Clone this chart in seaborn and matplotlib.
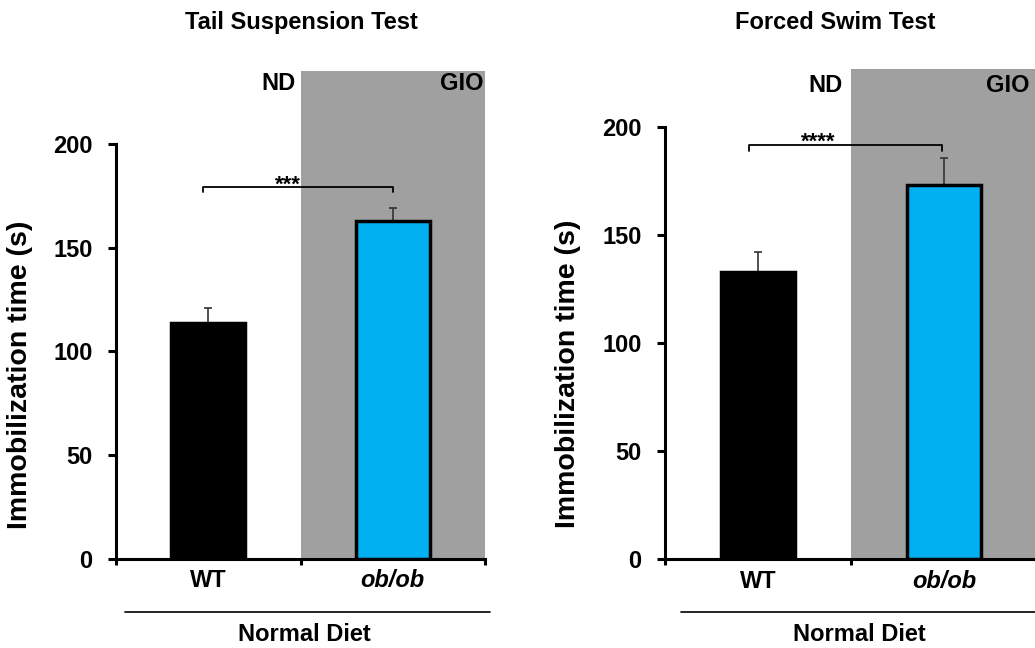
import pandas as pd
import seaborn as sns
import matplotlib.pyplot as plt
from matplotlib.lines import Line2D
import matplotlib.transforms as mtransforms

# Data (mean and upper error)
groups = ['WT', 'ob/ob']
tst_mean = [113.5, 163]
tst_err = [7.5, 6]
fst_mean = [133, 173.5]
fst_err = [9, 12.5]

titles = ['Tail Suspension Test', 'Forced Swim Test']
stars = ['***', '****']
yticks = [0, 50, 100, 150, 200]
bar_colors = ['black', '#00B0F0']
shade = '#A0A0A0'

sns.set_style('white')
plt.rcParams['font.family'] = ['Liberation Sans', 'DejaVu Sans']
for k in ['text.color', 'axes.labelcolor', 'xtick.color', 'ytick.color', 'axes.edgecolor']:
    plt.rcParams[k] = 'black'

fig = plt.figure(figsize=(10.35, 6.48), dpi=100)

# per panel layout: axes rect, ylim top, bracket y, bracket ends, star x, ND x, GIO x, text y
panels = [
    dict(rect=[0.1121, 0.1373, 0.3565, 0.7531], ytop=235, by=179, bx=(-0.03, 1.0), drop=2.4,
         sx=0.43, sy=177.5, ndx=0.473, giox=1.49, ty=0.975, title_x=0.2913,
         line=(0.1208, 0.4734), diet_x=0.294),
    dict(rect=[0.6425, 0.1373, 0.3594, 0.7562], ytop=227, by=192, bx=(-0.046, 0.99), drop=2.8,
         sx=0.325, sy=190.5, ndx=0.457, giox=1.46, ty=0.967, title_x=0.807,
         line=(0.658, 1.0), diet_x=0.830),
]
means = [tst_mean, fst_mean]
errs = [tst_err, fst_err]

for i, p in enumerate(panels):
    ax = fig.add_axes(p['rect'])
    ax.set_facecolor('white')
    df = pd.DataFrame({'group': groups, 'value': means[i]})

    # shaded GIO area
    ax.axvspan(0.5, 1.5, color=shade, lw=0, zorder=0)

    sns.barplot(data=df, x='group', y='value', hue='group', palette=bar_colors,
                saturation=1, width=0.4, dodge=False, errorbar=None, legend=False,
                edgecolor='black', linewidth=2.5, ax=ax, zorder=2)
    ax.errorbar([0, 1], means[i], yerr=[[0, 0], errs[i]], fmt='none',
                ecolor='#333333', elinewidth=1.2, capsize=3, capthick=1.2, zorder=1)

    ax.set_xlim(-0.5, 1.5)
    ax.set_ylim(0, p['ytop'])
    ax.set_yticks(yticks)
    ax.set_yticklabels([str(t) for t in yticks], fontsize=17, fontweight='bold')
    ax.set_xticks([-0.5, 0.5, 1.5])
    ax.set_xticklabels([])
    ax.set_xlabel('')
    ax.set_ylabel('Immobilization time (s)', fontsize=20.5, fontweight='bold')
    ax.yaxis.set_label_coords(-0.225, 0.377)

    for s in ['top', 'right']:
        ax.spines[s].set_visible(False)
    ax.spines['left'].set_bounds(0, 200)
    ax.spines['left'].set_linewidth(2.2)
    ax.spines['bottom'].set_linewidth(2.2)
    ax.spines['left'].set_zorder(5)
    ax.spines['bottom'].set_zorder(5)
    ax.tick_params(axis='y', direction='out', length=6, width=2.2, pad=11, left=True)
    ax.tick_params(axis='x', direction='out', length=4, width=2.2, bottom=True)

    # category labels
    trans = mtransforms.blended_transform_factory(ax.transData, ax.transAxes)
    ax.text(0, -0.045, 'WT', transform=trans, ha='center', va='center',
            fontsize=17, fontweight='bold')
    ax.text(1, -0.045, 'ob/ob', transform=trans, ha='center', va='center',
            fontsize=17, fontweight='bold', fontstyle='italic')

    # ND / GIO labels
    ax.text(p['ndx'], p['ty'], 'ND', transform=trans, ha='right', va='center',
            fontsize=17, fontweight='bold')
    ax.text(p['giox'], p['ty'], 'GIO', transform=trans, ha='right', va='center',
            fontsize=17, fontweight='bold')

    # significance bracket
    x0, x1 = p['bx']
    by = p['by']
    ax.plot([x0, x0, x1, x1], [by - p['drop'], by, by, by - p['drop']],
            color='black', lw=1.3, zorder=4)
    ax.text(p['sx'], p['sy'], stars[i], ha='center', va='baseline',
            fontsize=16, fontweight='bold')

    # title
    fig.text(p['title_x'], 0.966, titles[i], ha='center', va='center',
             fontsize=17, fontweight='bold')

    # Normal Diet underline + label
    fig.add_artist(Line2D(p['line'], [0.0556, 0.0556], color='black', lw=1.2))
    fig.text(p['diet_x'], 0.0216, 'Normal Diet', ha='center', va='center',
             fontsize=17, fontweight='bold')

fig.savefig('out.png', dpi=100)
